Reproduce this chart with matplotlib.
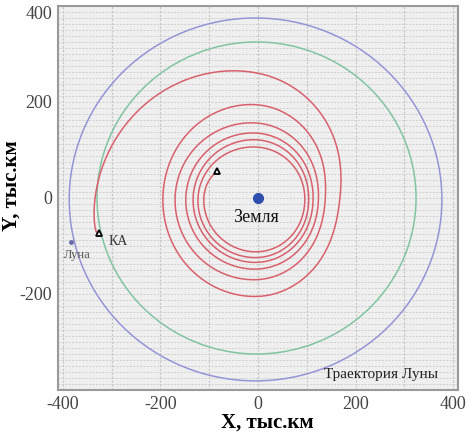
import numpy as np
import matplotlib
matplotlib.use('Agg')
import matplotlib.pyplot as plt
from matplotlib.patches import Ellipse

plt.rcParams['font.family'] = ['Liberation Serif', 'DejaVu Serif']
plt.rcParams['axes.unicode_minus'] = False

# ключевые точки спирали КА (угол, град ; радиус, тыс.км)
spiral_theta = [146, 180, 270, 360, 450, 540, 630, 720, 810, 900, 990, 1080, 1170,
                1260, 1350, 1440, 1530, 1620, 1710, 1800, 1890, 1980, 2070, 2160,
                2250, 2340, 2353]
spiral_r = [101, 111, 112, 96, 106, 123, 124, 104, 121, 133, 134, 113, 135,
            148, 148, 124, 156, 170, 170, 138, 194, 195, 205, 168,
            260, 334, 334]

# орбита Луны и конечная орбита (центр x, центр y, полуоси)
moon_orbit = [-5, -3, 382, 378]
final_orbit = [-3, 0, 327, 325]

earth = (0, 0)
moon = (-383, -92)
start_pt = (-84, 56)
ka_pt = (-326, -73)


def catmull(vals, n=60):
    # сглаживание по опорным точкам (Catmull-Rom)
    p = np.concatenate([[vals[0]], vals, [vals[-1]]])
    out = []
    for i in range(1, len(p) - 2):
        t = np.linspace(0, 1, n, endpoint=False)
        p0, p1, p2, p3 = p[i - 1], p[i], p[i + 1], p[i + 2]
        out.append(0.5 * (2 * p1 + (-p0 + p2) * t + (2 * p0 - 5 * p1 + 4 * p2 - p3) * t ** 2
                          + (-p0 + 3 * p1 - 3 * p2 + p3) * t ** 3))
    out.append([vals[-1]])
    return np.concatenate(out)


th = np.radians(catmull(np.array(spiral_theta, float)))
rr = catmull(np.array(spiral_r, float))

fig = plt.figure(figsize=(4.73, 4.41), dpi=100)
ax = fig.add_axes([58 / 473, 1 - 390 / 441, 400 / 473, 384 / 441])
ax.set_facecolor('#efefef')

# сетка
for x in range(-400, 401, 100):
    ax.axvline(x, color='#c4c4c4', lw=0.8, ls=(0, (2, 1.5)), zorder=0)
for y in np.arange(-400, 401, 12.5):
    ax.axhline(y, color='#cfcfcf', lw=0.7, ls=(0, (2, 1.5)), zorder=0)

ax.add_patch(Ellipse(moon_orbit[:2], 2 * moon_orbit[2], 2 * moon_orbit[3],
                     fill=False, ec='#9494d6', lw=1.1))
ax.add_patch(Ellipse(final_orbit[:2], 2 * final_orbit[2], 2 * final_orbit[3],
                     fill=False, ec='#82c4a2', lw=1.1))
ax.plot(rr * np.cos(th), rr * np.sin(th), color='#d8606c', lw=1.1)

ax.plot(*earth, 'o', color='#2f4fae', ms=7)
ax.plot(*moon, 'o', color='#6a6aa8', ms=2.5)
ax.plot(*start_pt, '^', mfc='white', mec='black', mew=1.3, ms=5)
ax.plot(*ka_pt, '^', mfc='white', mec='black', mew=1.3, ms=5)

ax.text(-4, -40, 'Земля', fontsize=13, ha='center', va='center', color='#111111')
ax.text(-307, -90, 'КА', fontsize=10, ha='left', va='center', color='#333333')
ax.text(-371, -119, 'Луна', fontsize=9, ha='center', va='center', color='#555555')
ax.text(253, -368, 'Траектория Луны', fontsize=11, ha='center', va='center', color='#222222')

ax.set_xlim(-410, 410)
ax.set_ylim(-400, 400)
ax.set_xticks([-400, -200, 0, 200, 400])
ax.set_yticks([-400, -200, 0, 200, 400])
ax.set_yticklabels(['', '-200', '0', '200', '400'])
ax.tick_params(length=0, labelsize=13, labelcolor='#444444', pad=4)
ax.get_yticklabels()[-1].set_va('top')
for s in ax.spines.values():
    s.set_color('#9a9a9a')
    s.set_linewidth(1.5)

fig.text(267 / 473, 1 - 423 / 441, 'X, тыс.км', fontsize=15, fontweight='bold',
         ha='center', va='center')
fig.text(12 / 473, 1 - 186 / 441, 'Y, тыс.км', fontsize=15, fontweight='bold',
         ha='center', va='center', rotation=90)

fig.savefig('out.png', dpi=100)
